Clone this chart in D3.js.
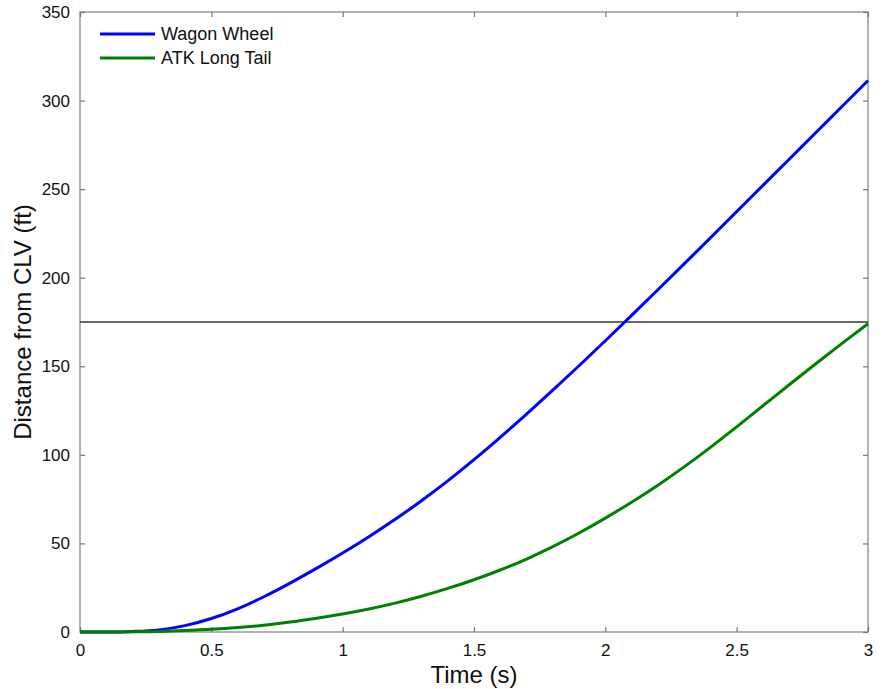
<!DOCTYPE html>
<html>
<head>
<meta charset="utf-8">
<script src="https://cdn.jsdelivr.net/npm/d3@7"></script>
<style>
  body { margin: 0; background: #fff; }
  svg { display: block; }
  text { font-family: "Liberation Sans", Arial, sans-serif; fill: #111; }
</style>
</head>
<body>
<svg id="chart" width="883" height="689"></svg>
<script>

// time (s)
var times = [0, 0.1, 0.2, 0.3, 0.4, 0.5, 0.6, 0.7, 0.8, 0.9, 1.0,
             1.1, 1.2, 1.3, 1.4, 1.5, 1.6, 1.7, 1.8, 1.9, 2.0,
             2.1, 2.2, 2.3, 2.4, 2.5, 2.6, 2.7, 2.8, 2.9, 3.0];

// distance from CLV (ft)
var wagonWheel = [0, 0, 0.3, 1.2, 3.6, 7.6, 13.1, 19.9, 27.6, 35.9, 44.6,
                  53.8, 63.6, 74.1, 85.3, 97.3, 109.9, 123, 136.5, 150.3, 164.4,
                  178.7, 193.2, 207.8, 222.5, 237.3, 252.1, 266.9, 281.7, 296.5, 311.3];

var atkLongTail = [0, 0, 0.1, 0.3, 0.8, 1.5, 2.5, 3.8, 5.6, 7.8, 10.2,
                   13, 16.3, 20.2, 24.6, 29.5, 35, 41.2, 48.2, 55.9, 64.3,
                   73.3, 82.9, 93.2, 104.2, 115.8, 127.7, 139.6, 151.3, 162.8, 174];

var seriesNames = ["Wagon Wheel", "ATK Long Tail"];
var seriesColors = ["#0000ff", "#008000"];
var threshold = 175;

var xTicks = [0, 0.5, 1, 1.5, 2, 2.5, 3];
var yTicks = [0, 50, 100, 150, 200, 250, 300, 350];

var margin = {top: 12, right: 15, bottom: 57, left: 80};
var width = 883 - margin.left - margin.right;
var height = 689 - margin.top - margin.bottom;

var svg = d3.select("#chart");
var g = svg.append("g")
  .attr("transform", "translate(" + margin.left + "," + margin.top + ")");

var x = d3.scaleLinear().domain([0, 3]).range([0, width]);
var y = d3.scaleLinear().domain([0, 350]).range([height, 0]);

// box
g.append("rect")
  .attr("width", width)
  .attr("height", height)
  .attr("fill", "none")
  .attr("stroke", "#999")
  .attr("stroke-width", 1.5);

// ticks on all four sides, pointing in
function styleAxis(sel) {
  sel.select(".domain").remove();
  sel.selectAll(".tick line").attr("stroke", "#777").attr("stroke-width", 1.2);
  sel.selectAll(".tick text").style("font-size", "17px").attr("fill", "#111");
}

g.append("g")
  .attr("transform", "translate(0," + height + ")")
  .call(d3.axisBottom(x).tickValues(xTicks).tickSize(-5).tickPadding(12)
    .tickFormat(function(d){ return d; }))
  .call(styleAxis);

g.append("g")
  .call(d3.axisTop(x).tickValues(xTicks).tickSize(-5).tickFormat(""))
  .call(styleAxis);

g.append("g")
  .call(d3.axisLeft(y).tickValues(yTicks).tickSize(-5).tickPadding(10))
  .call(styleAxis);

g.append("g")
  .attr("transform", "translate(" + width + ",0)")
  .call(d3.axisRight(y).tickValues(yTicks).tickSize(-5).tickFormat(""))
  .call(styleAxis);

// threshold line
g.append("line")
  .attr("x1", 0).attr("x2", width)
  .attr("y1", y(threshold)).attr("y2", y(threshold))
  .attr("stroke", "#333")
  .attr("stroke-width", 1.3);

var line = d3.line()
  .x(function(d){ return x(d[0]); })
  .y(function(d){ return y(d[1]); })
  .curve(d3.curveMonotoneX);

var series = [wagonWheel, atkLongTail];
series.forEach(function(vals, i){
  g.append("path")
    .datum(d3.zip(times, vals))
    .attr("fill", "none")
    .attr("stroke", seriesColors[i])
    .attr("stroke-width", 3)
    .attr("d", line);
});

// legend
var legend = g.append("g").attr("transform", "translate(20,22)");
seriesNames.forEach(function(name, i){
  var row = legend.append("g").attr("transform", "translate(0," + (i * 24) + ")");
  row.append("line")
    .attr("x1", 0).attr("x2", 55)
    .attr("stroke", seriesColors[i])
    .attr("stroke-width", 3);
  row.append("text")
    .attr("x", 61)
    .attr("dy", "0.35em")
    .style("font-size", "18px")
    .text(name);
});

// axis labels
svg.append("text")
  .attr("x", margin.left + width / 2)
  .attr("y", 683)
  .attr("text-anchor", "middle")
  .style("font-size", "24px")
  .text("Time (s)");

svg.append("text")
  .attr("transform", "translate(31," + (margin.top + height / 2) + ") rotate(-90)")
  .attr("text-anchor", "middle")
  .style("font-size", "24px")
  .text("Distance from CLV (ft)");

</script>
</body>
</html>
